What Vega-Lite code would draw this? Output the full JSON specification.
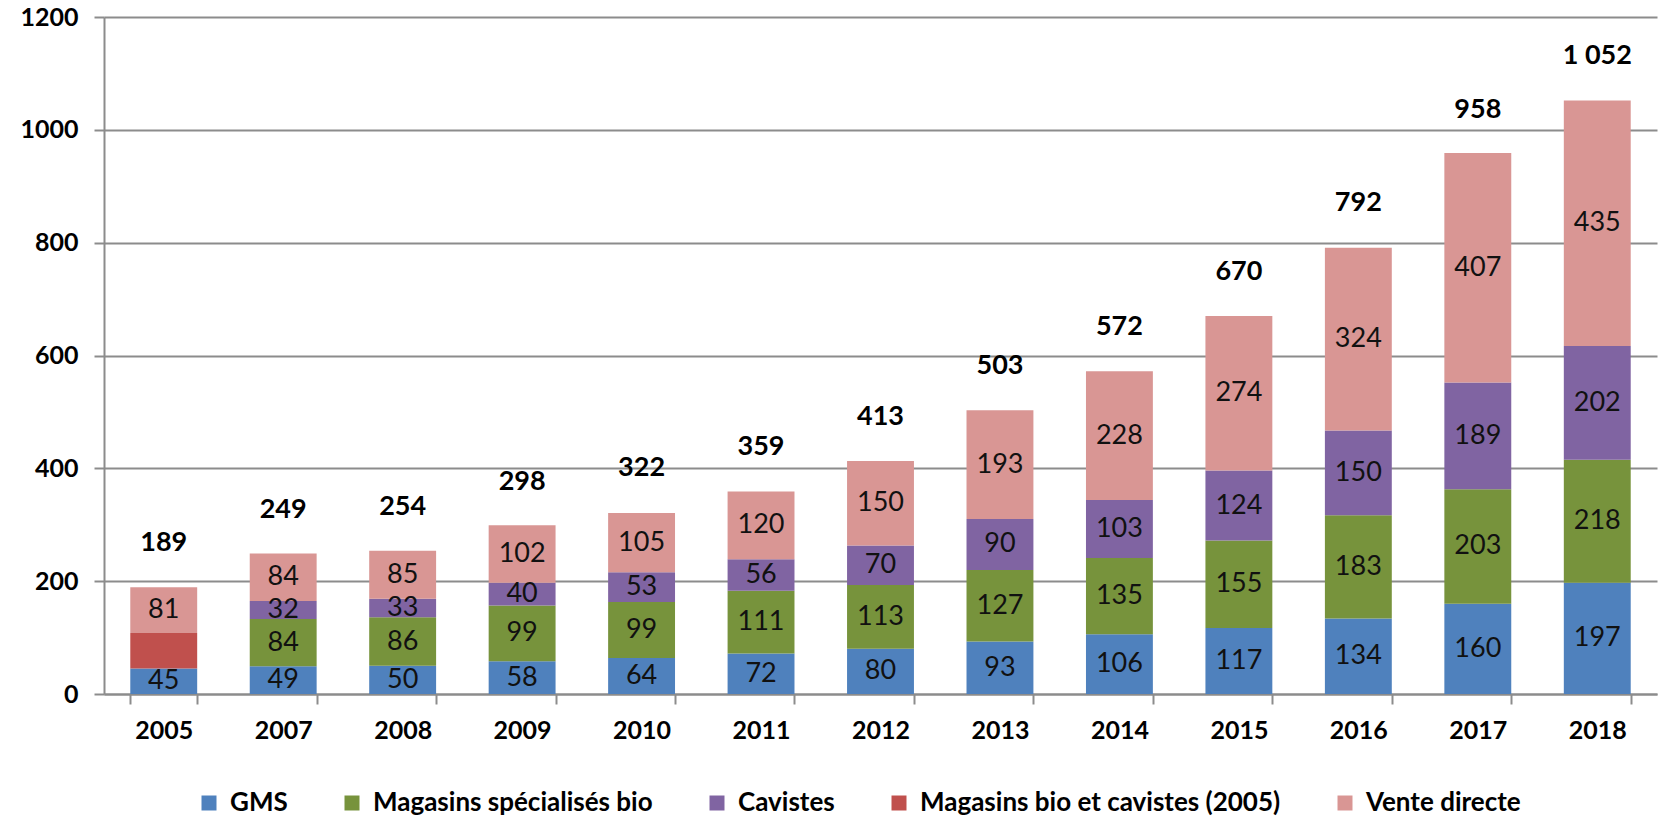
{
  "$schema": "https://vega.github.io/schema/vega-lite/v6.json",
  "width": 1553,
  "height": 677,
  "autosize": "none",
  "padding": {"left": 104, "top": 17, "right": 16, "bottom": 124},
  "background": "white",
  "datasets": {
    "parts": [
      {"year": "2005", "series": "GMS", "value": 45},
      {"year": "2005", "series": "Magasins bio et cavistes (2005)", "value": 63},
      {"year": "2005", "series": "Vente directe", "value": 81},
      {"year": "2007", "series": "GMS", "value": 49},
      {"year": "2007", "series": "Magasins spécialisés bio", "value": 84},
      {"year": "2007", "series": "Cavistes", "value": 32},
      {"year": "2007", "series": "Vente directe", "value": 84},
      {"year": "2008", "series": "GMS", "value": 50},
      {"year": "2008", "series": "Magasins spécialisés bio", "value": 86},
      {"year": "2008", "series": "Cavistes", "value": 33},
      {"year": "2008", "series": "Vente directe", "value": 85},
      {"year": "2009", "series": "GMS", "value": 58},
      {"year": "2009", "series": "Magasins spécialisés bio", "value": 99},
      {"year": "2009", "series": "Cavistes", "value": 40},
      {"year": "2009", "series": "Vente directe", "value": 102},
      {"year": "2010", "series": "GMS", "value": 64},
      {"year": "2010", "series": "Magasins spécialisés bio", "value": 99},
      {"year": "2010", "series": "Cavistes", "value": 53},
      {"year": "2010", "series": "Vente directe", "value": 105},
      {"year": "2011", "series": "GMS", "value": 72},
      {"year": "2011", "series": "Magasins spécialisés bio", "value": 111},
      {"year": "2011", "series": "Cavistes", "value": 56},
      {"year": "2011", "series": "Vente directe", "value": 120},
      {"year": "2012", "series": "GMS", "value": 80},
      {"year": "2012", "series": "Magasins spécialisés bio", "value": 113},
      {"year": "2012", "series": "Cavistes", "value": 70},
      {"year": "2012", "series": "Vente directe", "value": 150},
      {"year": "2013", "series": "GMS", "value": 93},
      {"year": "2013", "series": "Magasins spécialisés bio", "value": 127},
      {"year": "2013", "series": "Cavistes", "value": 90},
      {"year": "2013", "series": "Vente directe", "value": 193},
      {"year": "2014", "series": "GMS", "value": 106},
      {"year": "2014", "series": "Magasins spécialisés bio", "value": 135},
      {"year": "2014", "series": "Cavistes", "value": 103},
      {"year": "2014", "series": "Vente directe", "value": 228},
      {"year": "2015", "series": "GMS", "value": 117},
      {"year": "2015", "series": "Magasins spécialisés bio", "value": 155},
      {"year": "2015", "series": "Cavistes", "value": 124},
      {"year": "2015", "series": "Vente directe", "value": 274},
      {"year": "2016", "series": "GMS", "value": 134},
      {"year": "2016", "series": "Magasins spécialisés bio", "value": 183},
      {"year": "2016", "series": "Cavistes", "value": 150},
      {"year": "2016", "series": "Vente directe", "value": 324},
      {"year": "2017", "series": "GMS", "value": 160},
      {"year": "2017", "series": "Magasins spécialisés bio", "value": 203},
      {"year": "2017", "series": "Cavistes", "value": 189},
      {"year": "2017", "series": "Vente directe", "value": 407},
      {"year": "2018", "series": "GMS", "value": 197},
      {"year": "2018", "series": "Magasins spécialisés bio", "value": 218},
      {"year": "2018", "series": "Cavistes", "value": 202},
      {"year": "2018", "series": "Vente directe", "value": 435}
    ],
    "totals": [
      {"year": "2005", "total": 189, "label": "189"},
      {"year": "2007", "total": 249, "label": "249"},
      {"year": "2008", "total": 254, "label": "254"},
      {"year": "2009", "total": 298, "label": "298"},
      {"year": "2010", "total": 322, "label": "322"},
      {"year": "2011", "total": 359, "label": "359"},
      {"year": "2012", "total": 413, "label": "413"},
      {"year": "2013", "total": 503, "label": "503"},
      {"year": "2014", "total": 572, "label": "572"},
      {"year": "2015", "total": 670, "label": "670"},
      {"year": "2016", "total": 792, "label": "792"},
      {"year": "2017", "total": 958, "label": "958"},
      {"year": "2018", "total": 1052, "label": "1 052"}
    ]
  },
  "layer": [
    {
      "data": {"name": "parts"},
      "transform": [
        {"calculate": "indexof(['GMS','Magasins spécialisés bio','Cavistes','Magasins bio et cavistes (2005)','Vente directe'], datum.series)", "as": "ord"},
        {"stack": "value", "groupby": ["year"], "sort": [{"field": "ord", "order": "ascending"}], "as": ["v0", "v1"]}
      ],
      "mark": {"type": "bar"},
      "encoding": {
        "x": {
          "field": "year", "type": "nominal", "sort": "ascending",
          "scale": {"paddingInner": 0.44, "paddingOuter": 0.22},
          "axis": {
            "title": null, "labelAngle": 0, "tickBand": "extent",
            "domainColor": "#8c8c8c", "domainWidth": 2,
            "tickColor": "#8c8c8c", "tickWidth": 2, "tickSize": 10,
            "labelFont": "Lato", "labelFontSize": 25, "labelFontWeight": "bold",
            "labelColor": "#000000", "labelPadding": 14
          }
        },
        "y": {
          "field": "v0", "type": "quantitative",
          "scale": {"domain": [0, 1200], "nice": false},
          "axis": {
            "title": null, "values": [0, 200, 400, 600, 800, 1000, 1200], "format": "d",
            "grid": true, "gridColor": "#8c8c8c", "gridWidth": 2,
            "domainColor": "#8c8c8c", "domainWidth": 2,
            "tickColor": "#8c8c8c", "tickWidth": 2, "tickSize": 10,
            "labelFont": "Lato", "labelFontSize": 25, "labelFontWeight": "bold",
            "labelColor": "#000000", "labelPadding": 16
          }
        },
        "y2": {"field": "v1"},
        "color": {
          "field": "series", "type": "nominal",
          "scale": {
            "domain": ["GMS", "Magasins spécialisés bio", "Cavistes", "Magasins bio et cavistes (2005)", "Vente directe"],
            "range": ["#4F81BD", "#77933C", "#8064A2", "#C0504D", "#D99694"]
          },
          "legend": {
            "title": null, "orient": "none", "direction": "horizontal", "columns": 5,
            "legendX": 92, "legendY": 773,
            "symbolType": "square", "symbolSize": 225, "symbolStrokeWidth": 0, "symbolOpacity": 1,
            "labelFont": "Lato", "labelFontSize": 26, "labelFontWeight": "bold", "labelColor": "#000000",
            "labelLimit": 0, "columnPadding": 51, "labelOffset": 8
          }
        }
      }
    },
    {
      "data": {"name": "parts"},
      "transform": [
        {"calculate": "indexof(['GMS','Magasins spécialisés bio','Cavistes','Magasins bio et cavistes (2005)','Vente directe'], datum.series)", "as": "ord"},
        {"stack": "value", "groupby": ["year"], "sort": [{"field": "ord", "order": "ascending"}], "as": ["v0", "v1"]},
        {"filter": "datum.series !== 'Magasins bio et cavistes (2005)'"},
        {"calculate": "(datum.v0 + datum.v1) / 2", "as": "mid"}
      ],
      "mark": {"type": "text", "font": "Lato", "fontSize": 27, "color": "#111111", "baseline": "middle", "align": "center"},
      "encoding": {
        "x": {"field": "year", "type": "nominal", "sort": "ascending"},
        "y": {"field": "mid", "type": "quantitative"},
        "text": {"field": "value", "type": "quantitative"}
      }
    },
    {
      "data": {"name": "totals"},
      "mark": {"type": "text", "font": "Lato", "fontSize": 27, "fontWeight": "bold", "color": "#000000", "baseline": "middle", "align": "center", "dy": -44},
      "encoding": {
        "x": {"field": "year", "type": "nominal", "sort": "ascending"},
        "y": {"field": "total", "type": "quantitative"},
        "text": {"field": "label", "type": "nominal"}
      }
    }
  ],
  "config": {"view": {"stroke": null}}
}
